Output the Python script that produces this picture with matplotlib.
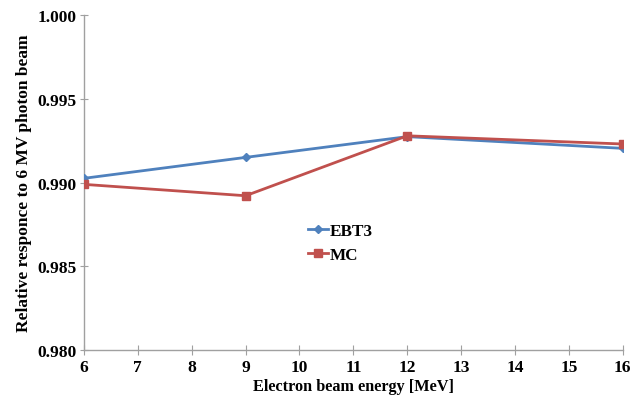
import matplotlib
matplotlib.use("Agg")
import matplotlib.pyplot as plt

energy = [6, 9, 12, 16]
ebt3 = [0.99025, 0.9915, 0.99274, 0.99204]
mc = [0.98989, 0.98921, 0.99279, 0.9923]
yticks = [0.980, 0.985, 0.990, 0.995, 1.000]
xticks = list(range(6, 17))

plt.rcParams['font.family'] = ['Liberation Serif', 'DejaVu Serif']
plt.rcParams['font.weight'] = 'bold'

fig = plt.figure(figsize=(6.31, 4.02), dpi=100)
ax = fig.add_axes([0.133, 0.127, 0.854, 0.833])

ax.plot(energy, ebt3, color='#4F81BD', lw=2.0, marker='D', ms=4.5, label='EBT3', zorder=3)
ax.plot(energy, mc, color='#C0504D', lw=2.0, marker='s', ms=6, label='MC', zorder=3)

ax.set_xlim(6, 16)
ax.set_ylim(0.980, 1.000)
ax.set_xticks(xticks)
ax.set_yticks(yticks)
ax.set_yticklabels([f"{v:.3f}" for v in yticks])
for s in ['top', 'right']:
    ax.spines[s].set_visible(False)
for s in ['left', 'bottom']:
    ax.spines[s].set_color('#A0A0A0')
    ax.spines[s].set_linewidth(1.0)
ax.tick_params(axis='x', direction='inout', length=7, color='#A0A0A0', labelsize=12.5, pad=3)
ax.tick_params(axis='y', direction='inout', length=6, color='#A0A0A0', labelsize=12.5, pad=2)
for lab in ax.get_xticklabels() + ax.get_yticklabels():
    lab.set_fontweight('bold')

ax.set_xlabel('Electron beam energy [MeV]', fontsize=11.7, fontweight='bold', labelpad=2)
ax.set_ylabel('Relative responce to 6 MV photon beam', fontsize=12.5, fontweight='bold', labelpad=4)

leg = ax.legend(loc='center left', bbox_to_anchor=(0.4156, 0.319), frameon=False,
                fontsize=12.3, handlelength=1.2, handletextpad=0.05, labelspacing=0.44,
                borderaxespad=0, borderpad=0)
for t in leg.get_texts():
    t.set_fontweight('bold')

fig.savefig('out.png', dpi=100)
